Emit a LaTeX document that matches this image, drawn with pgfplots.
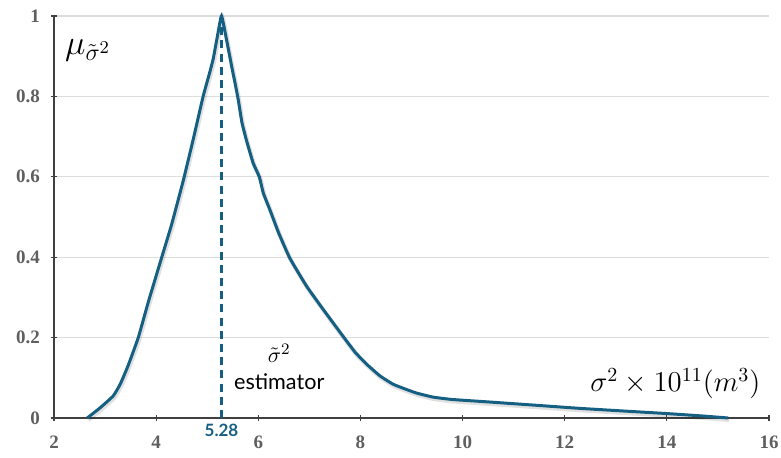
\documentclass[border=0pt]{standalone}
\usepackage{pgfplots}
\pgfplotsset{compat=1.18}
\usepackage{fontspec}
\setmainfont{Liberation Serif}
\newfontfamily\labelsans{Lato}
\definecolor{curve}{HTML}{156082}
\definecolor{tickgray}{HTML}{5F5F5F}
\definecolor{gridgray}{HTML}{DDDDDD}

\pgfplotstableread{
x y
2.65 0
2.90 0.025
3.16 0.055
3.30 0.085
3.45 0.13
3.65 0.20
3.85 0.29
4.11 0.40
4.30 0.48
4.53 0.59
4.72 0.69
4.92 0.80
5.05 0.86
5.12 0.895
5.20 0.95
5.28 1.00
5.38 0.94
5.48 0.874
5.55 0.83
5.61 0.79
5.68 0.735
5.77 0.69
5.90 0.634
6.02 0.60
6.10 0.559
6.23 0.517
6.40 0.46
6.62 0.397
6.95 0.327
7.30 0.265
7.69 0.198
7.90 0.163
8.12 0.134
8.38 0.105
8.64 0.084
8.90 0.071
9.10 0.062
9.42 0.052
9.80 0.046
10.5 0.040
11.4 0.032
12.29 0.024
13.2 0.017
14.0 0.011
14.7 0.005
15.2 0
}\curvedata

\begin{document}
\begin{tikzpicture}
\begin{axis}[
    name=ax,
    scale only axis,
    width=357.5pt, height=201pt,
    xmin=2, xmax=16, ymin=0, ymax=1,
    xtick={2,4,...,16},
    ytick={0,0.2,0.4,0.6,0.8,1},
    yticklabels={0,0.2,0.4,0.6,0.8,1},
    axis lines=left,
    axis line style={-, draw=black!75, line width=0.6pt},
    tick style={black!75, line width=0.6pt},
    major tick length=3pt,
    ymajorgrids,
    grid style={gridgray, line width=0.6pt},
    /pgf/number format/assume math mode=true,
    tick label style={font=\bfseries\fontsize{9.5}{10}\selectfont, text=tickgray},
    xticklabel style={yshift=-4pt},
    yticklabel style={xshift=-2pt},
    clip=false,
]
% soft shadow under the curve
\addplot[black, opacity=0.12, line width=2.2pt, smooth, tension=0.25,
    shift={(0.5pt,-0.9pt)}] table {\curvedata};
\addplot[curve, line width=1.5pt, smooth, tension=0.25] table {\curvedata};
% estimator position
\addplot[curve, line width=1.2pt, dash pattern=on 4pt off 2.6pt] coordinates {(5.28,0) (5.28,1)};

\node[anchor=west, font=\fontsize{18}{20}\selectfont] at (axis cs:2.08,0.915) {$\mu_{\tilde{\sigma}^2}$};
\node[anchor=east, font=\fontsize{14}{16}\selectfont] at (axis cs:15.97,0.085) {$\sigma^2\times 10^{11}(m^3)$};
\node[align=center, font=\labelsans\fontsize{10.8}{13.5}\selectfont] at (axis cs:6.41,0.128) {$\tilde{\sigma}^2$\\estimator};
\node[text=curve, font=\labelsans\bfseries\fontsize{8.5}{9}\selectfont] at (axis cs:5.28,-0.03) {5.28};
\end{axis}
\pgfresetboundingbox
\path ([shift={(-27pt,-20pt)}]ax.south west) rectangle ([shift={(6pt,8pt)}]ax.north east);
\end{tikzpicture}
\end{document}
